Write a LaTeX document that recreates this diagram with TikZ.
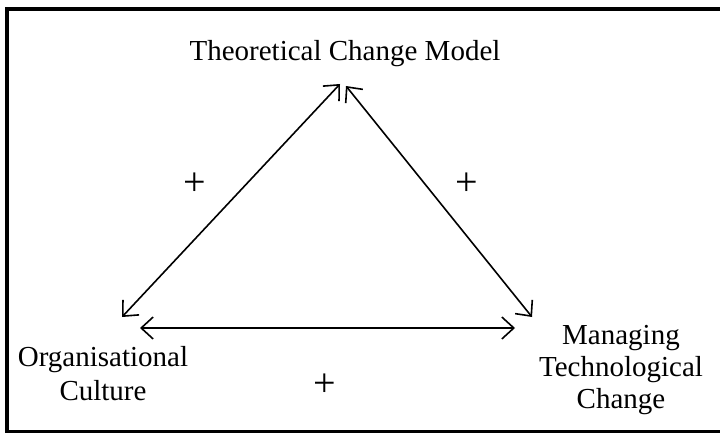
\documentclass[tikz,border=0pt]{standalone}
\usepackage{fontspec}
\setmainfont{Liberation Serif}
\usetikzlibrary{arrows.meta}
\begin{document}
\begin{tikzpicture}[x=1pt, y=-1pt,
    every node/.style={font=\fontsize{29}{33}\selectfont, align=center, inner sep=0pt},
    link/.style={{Straight Barb[length=12pt,width=22pt]}-{Straight Barb[length=12pt,width=22pt]}, line width=1.6pt},
    sign/.style={font=\fontsize{40}{42}\selectfont}]
    \useasboundingbox (0,0) rectangle (720,433);
    \fill[white] (0,0) rectangle (720,433);
    % frame, open on the right
    \draw[line width=4pt] (730,9) -- (7,9) -- (7,431.5) -- (730,431.5);
    \node (model) at (345,54) {Theoretical Change Model};
    \node (culture) at (103,374) {Organisational\\[1pt]Culture};
    \node (tech) at (621,370) {Managing\\[-1pt]Technological\\[-1pt]Change};
    \coordinate (topL) at (340,84);
    \coordinate (topR) at (346,86);
    \coordinate (left) at (122,317);
    \coordinate (right) at (532,317);
    \coordinate (baseL) at (140,328);
    \coordinate (baseR) at (515,328);
    \draw[link] (left) -- (topL);
    \draw[link] (topR) -- (right);
    \draw[link] (baseL) -- (baseR);
    \node[sign] (plusL) at (195,184) {+};
    \node[sign] (plusR) at (467,184) {+};
    \node[sign] (plusB) at (325,385) {+};
\end{tikzpicture}
\end{document}
